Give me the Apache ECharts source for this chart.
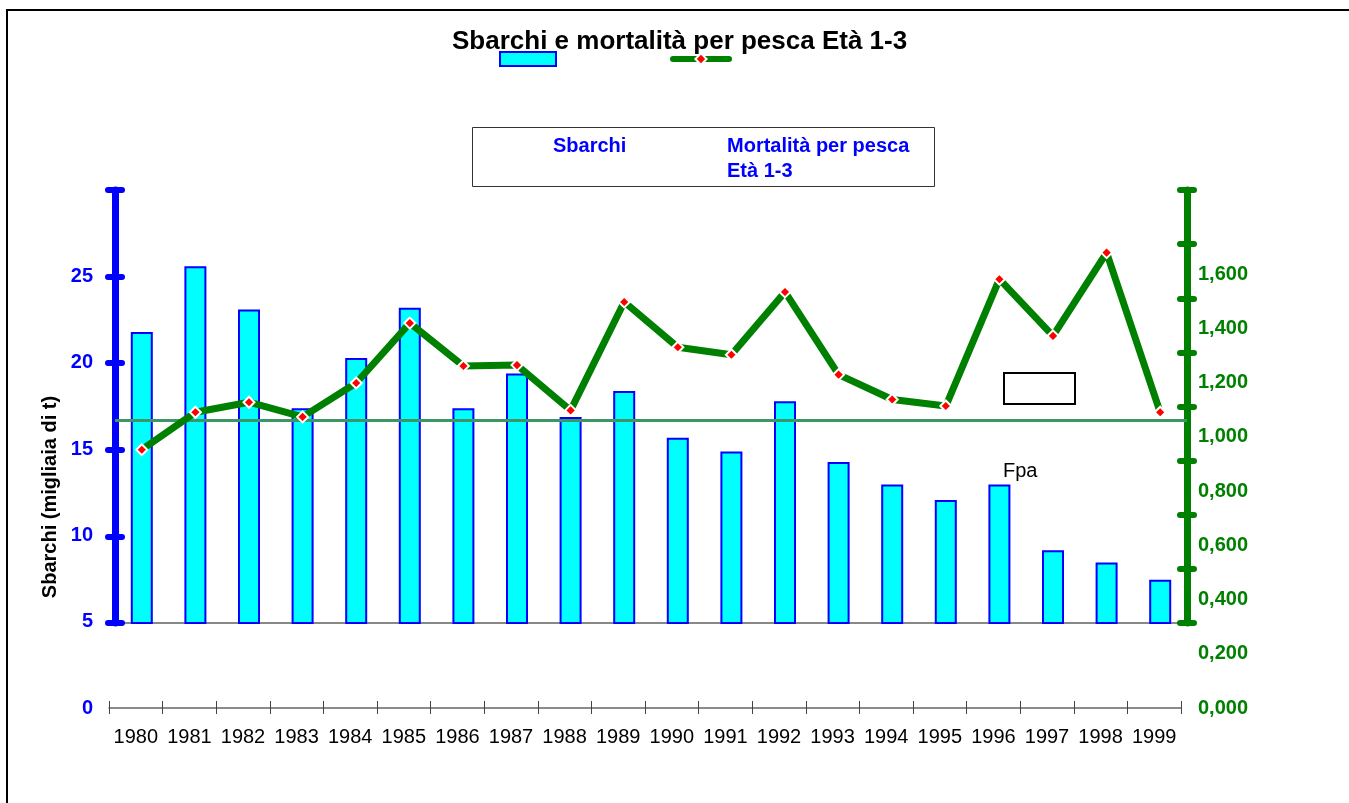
<!DOCTYPE html>
<html>
<head>
<meta charset="utf-8">
<script src="https://cdn.jsdelivr.net/npm/echarts@6/dist/echarts.min.js"></script>
<style>
  html, body { margin: 0; padding: 0; background: #fff; }
  #chart { width: 1349px; height: 803px; }
</style>
</head>
<body>
<div id="chart"></div>
<script>
const years = ['1980', '1981', '1982', '1983', '1984', '1985', '1986', '1987', '1988', '1989',
  '1990', '1991', '1992', '1993', '1994', '1995', '1996', '1997', '1998', '1999'];
// Sbarchi (migliaia di t)
const sbarchi = [21.8, 25.6, 23.1, 17.4, 20.3, 23.2, 17.4, 19.4, 16.9, 18.4,
  15.7, 14.9, 17.8, 14.3, 13.0, 12.1, 13.0, 9.2, 8.5, 7.5];
// Mortalità per pesca Età 1-3
const mortalita = [0.953, 1.091, 1.128, 1.074, 1.199, 1.420, 1.262, 1.265, 1.098, 1.498,
  1.331, 1.303, 1.535, 1.230, 1.138, 1.114, 1.582, 1.373, 1.680, 1.091];
const fpa = 1.060;

const FONT = 'Arial, "Liberation Sans", sans-serif';

const chart = echarts.init(document.getElementById('chart'));

// decorative axis with ticks that go through the line
function tickAxis(pos, min, max, interval, color, inside, showLine) {
  return {
    gridIndex: 0, position: pos, type: 'value', min, max, interval,
    axisLine: { show: showLine, lineStyle: { color, width: 7, cap: 'round' } },
    axisTick: { show: true, inside, length: 7, lineStyle: { color, width: 6, cap: 'round' } },
    axisLabel: { show: false },
    splitLine: { show: false },
  };
}

chart.setOption({
  animation: false,
  backgroundColor: '#fff',
  title: {
    text: 'Sbarchi e mortalità per pesca Età 1-3',
    left: 452,
    top: 29,
    padding: 0,
    textStyle: { fontFamily: FONT, fontSize: 26, fontWeight: 'bold', color: '#000' },
  },
  legend: {
    left: 499,
    top: 51,
    padding: 0,
    itemWidth: 56,
    itemHeight: 14,
    itemGap: 113,
    formatter: () => '',
    selectedMode: false,
    lineStyle: { width: 6, cap: 'round' },
    data: [
      { name: 'Sbarchi', icon: 'rect' },
      { name: 'Mortalità per pesca Età 1-3' },
    ],
  },
  grid: [
    { left: 115, right: 162, top: 190, bottom: 180 },
    { left: 109, right: 168, top: 190, bottom: 95 },
  ],
  xAxis: [
    {
      gridIndex: 0, type: 'category', data: years, position: 'bottom',
      axisLine: { lineStyle: { color: '#888', width: 2 } },
      axisTick: { show: false }, axisLabel: { show: false },
    },
    {
      gridIndex: 0, type: 'category', data: years, position: 'top',
      axisLine: { lineStyle: { color: '#888', width: 2 } },
      axisTick: { show: false }, axisLabel: { show: false },
    },
    {
      gridIndex: 1, type: 'category', data: years, position: 'bottom',
      axisLine: { lineStyle: { color: '#666', width: 1.5 } },
      axisTick: { show: true, interval: 0, length: 6, lineStyle: { color: '#444', width: 1 } },
      axisLabel: { interval: 0, margin: 19, color: '#000', fontFamily: FONT, fontSize: 20 },
    },
    {
      gridIndex: 1, type: 'category', data: years, position: 'bottom',
      axisLine: { show: false },
      axisTick: { show: true, interval: 0, inside: true, length: 7, lineStyle: { color: '#444', width: 1 } },
      axisLabel: { show: false },
    },
  ],
  yAxis: [
    tickAxis('left', 5, 30, 5, '#0000ff', false, true),
    tickAxis('left', 5, 30, 5, '#0000ff', true, false),
    tickAxis('right', 0, 8, 1, '#008000', false, true),
    tickAxis('right', 0, 8, 1, '#008000', true, false),
    { gridIndex: 0, position: 'right', type: 'value', min: 0.3136, max: 1.911, show: false },
    {
      gridIndex: 1, position: 'left', type: 'value', min: 0, max: 30, interval: 5,
      axisLine: { show: false }, axisTick: { show: false }, splitLine: { show: false },
      axisLabel: {
        margin: 16, color: '#0000ff', fontFamily: FONT, fontSize: 20, fontWeight: 'bold',
        formatter: (v) => (v >= 30 ? '' : String(v)),
      },
    },
    {
      gridIndex: 1, position: 'right', type: 'value', min: 0, max: 1.911, interval: 0.2,
      axisLine: { show: false }, axisTick: { show: false }, splitLine: { show: false },
      axisLabel: {
        margin: 17, color: '#008000', fontFamily: FONT, fontSize: 20, fontWeight: 'bold',
        formatter: (v) => (v > 1.7 ? '' : v.toFixed(3).replace('.', ',')),
      },
    },
  ],
  series: [
    {
      name: 'Sbarchi',
      type: 'bar',
      xAxisIndex: 0,
      yAxisIndex: 0,
      data: sbarchi,
      barWidth: 22,
      itemStyle: { color: '#00ffff', borderColor: '#0000ff', borderWidth: 2 },
      z: 2,
    },
    {
      name: 'Mortalità per pesca Età 1-3',
      type: 'line',
      xAxisIndex: 0,
      yAxisIndex: 4,
      data: mortalita,
      symbol: 'diamond',
      symbolSize: 11,
      lineStyle: { color: '#008000', width: 7, cap: 'round' },
      itemStyle: { color: '#ff0000', borderColor: '#fff', borderWidth: 2 },
      z: 4,
      markLine: {
        silent: true,
        symbol: 'none',
        label: { show: false },
        lineStyle: { color: '#3c9665', width: 3, type: 'solid' },
        data: [{ yAxis: fpa }],
        z: 3,
      },
    },
  ],
  graphic: [
    {
      type: 'rect', shape: { x: 7, y: 10, width: 1400, height: 900 },
      style: { fill: 'none', stroke: '#000', lineWidth: 2 }, z: -1,
    },
    {
      type: 'rect', shape: { x: 472.5, y: 127.5, width: 462, height: 59 },
      style: { fill: '#fff', stroke: '#333', lineWidth: 1 },
    },
    {
      type: 'text', x: 553, y: 146,
      style: { text: 'Sbarchi', font: 'bold 20px ' + FONT, fill: '#0000ff', verticalAlign: 'middle' },
    },
    {
      type: 'text', x: 727, y: 146,
      style: { text: 'Mortalità per pesca', font: 'bold 20px ' + FONT, fill: '#0000ff', verticalAlign: 'middle' },
    },
    {
      type: 'text', x: 727, y: 171,
      style: { text: 'Età 1-3', font: 'bold 20px ' + FONT, fill: '#0000ff', verticalAlign: 'middle' },
    },
    {
      type: 'rect', shape: { x: 1004, y: 373, width: 71, height: 31 },
      style: { fill: '#fff', stroke: '#000', lineWidth: 2 }, z: 10,
    },
    {
      type: 'text', x: 1003, y: 471,
      style: { text: 'Fpa', font: '20px ' + FONT, fill: '#000', verticalAlign: 'middle' },
      z: 10,
    },
    {
      type: 'text', x: 50, y: 497, rotation: Math.PI / 2,
      style: { text: 'Sbarchi (migliaia di t)', font: 'bold 20px ' + FONT, fill: '#000', align: 'center', verticalAlign: 'middle' },
    },
  ],
});
</script>
</body>
</html>
